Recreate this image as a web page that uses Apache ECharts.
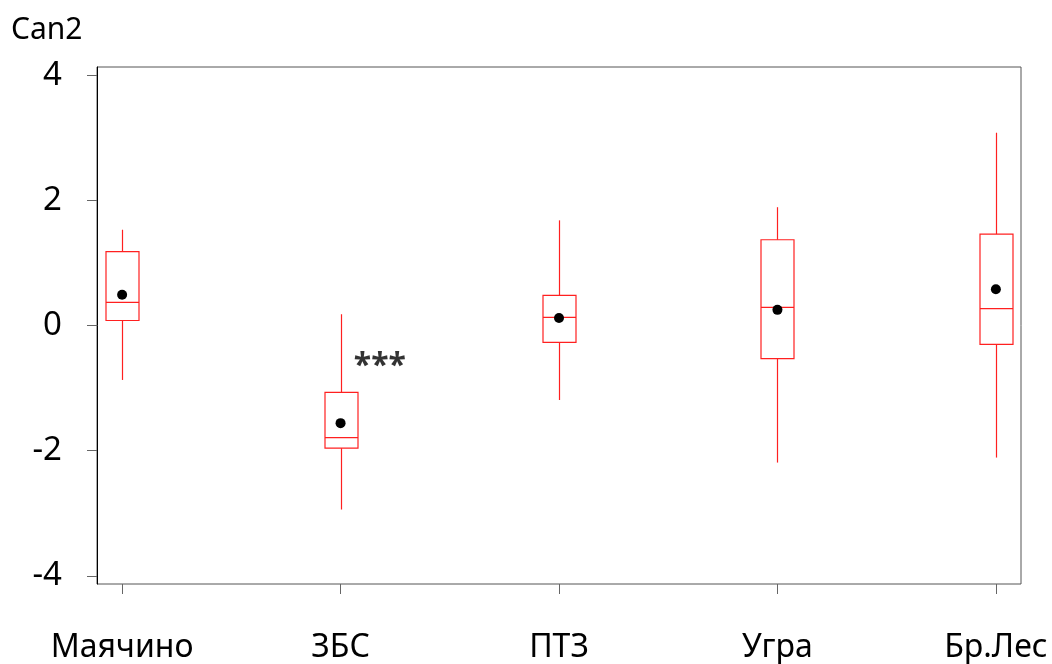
<!DOCTYPE html>
<html>
<head>
<meta charset="utf-8">
<script src="https://cdn.jsdelivr.net/npm/echarts@6/dist/echarts.min.js"></script>
<style>html,body{margin:0;padding:0;background:#fff}#c{width:1052px;height:664px}</style>
</head>
<body>
<div id="c"></div>
<script>
const categories = ['Маячино', 'ЗБС', 'ПТЗ', 'Угра', 'Бр.Лес'];
const whiskerLow  = [-0.87, -2.94, -1.19, -2.19, -2.11];
const q1Values    = [ 0.08, -1.96, -0.27, -0.53, -0.30];
const medians     = [ 0.37, -1.79,  0.13,  0.29,  0.27];
const q3Values    = [ 1.18, -1.07,  0.48,  1.37,  1.46];
const whiskerHigh = [ 1.53,  0.18,  1.68,  1.89,  3.08];
const means       = [ 0.49, -1.56,  0.12,  0.25,  0.58];
const yTicks = [-4, -2, 0, 2, 4];
const axisTitle = 'Can2';
const annotationText = '***';
const annotationPos = [1.18, -0.66];

const FONT = '"Noto Sans", "Open Sans", sans-serif';
const xIdx = categories.map((c, i) => i);
const boxData = categories.map((c, i) => [i, whiskerLow[i], q1Values[i], medians[i], q3Values[i], whiskerHigh[i]]);
const meanData = categories.map((c, i) => [i, means[i]]);

const chart = echarts.init(document.getElementById('c'), null, {renderer: 'canvas'});
const HALF = 16.5;
const RED = '#ff2020';
chart.setOption({
  animation: false,
  backgroundColor: '#fff',
  title: {
    text: axisTitle, left: 6, top: 10,
    textStyle: {fontFamily: FONT, fontSize: 30, fontWeight: 'normal', color: '#000'}
  },
  grid: {left: 97, right: 31, top: 67, bottom: 77, show: true, borderColor: '#555', borderWidth: 1},
  xAxis: {
    type: 'value', min: -0.115, max: 4.115,
    splitLine: {show: false},
    axisLine: {show: false, onZero: false},
    axisTick: {show: true, customValues: xIdx, length: 10, lineStyle: {color: '#666', width: 1}},
    axisLabel: {
      customValues: xIdx, margin: 48,
      formatter: v => categories[Math.round(v)] || '',
      fontFamily: FONT, fontSize: 32, color: '#000'
    }
  },
  yAxis: {
    type: 'value', min: -4.13, max: 4.13,
    splitLine: {show: false},
    axisLine: {show: true, onZero: false, lineStyle: {color: '#000', width: 1}},
    axisTick: {show: true, customValues: yTicks, length: 10, lineStyle: {color: '#666', width: 1}},
    axisLabel: {
      customValues: yTicks, margin: 35,
      fontFamily: FONT, fontSize: 33, color: '#000',
      padding: [12, 0, 0, 0]
    }
  },
  series: [
    {
      type: 'custom',
      data: boxData,
      encode: {x: 0, y: [1, 2, 3, 4, 5]},
      renderItem: function (params, api) {
        const x = api.value(0);
        const pLo = api.coord([x, api.value(1)]);
        const pQ1 = api.coord([x, api.value(2)]);
        const pMed = api.coord([x, api.value(3)]);
        const pQ3 = api.coord([x, api.value(4)]);
        const pHi = api.coord([x, api.value(5)]);
        const cx = Math.round(pQ1[0]) + 0.5;
        const st = {stroke: RED, lineWidth: 1.2, fill: null};
        return {
          type: 'group',
          children: [
            {type: 'line', shape: {x1: cx, y1: pHi[1], x2: cx, y2: pQ3[1]}, style: st},
            {type: 'line', shape: {x1: cx, y1: pQ1[1], x2: cx, y2: pLo[1]}, style: st},
            {type: 'rect', shape: {x: cx - HALF, y: pQ3[1], width: HALF * 2, height: pQ1[1] - pQ3[1]}, style: {stroke: RED, lineWidth: 1.2, fill: 'rgba(0,0,0,0)'}},
            {type: 'line', shape: {x1: cx - HALF, y1: pMed[1], x2: cx + HALF, y2: pMed[1]}, style: st}
          ]
        };
      },
      z: 2
    },
    {
      type: 'scatter',
      data: meanData,
      symbol: 'circle', symbolSize: 10,
      itemStyle: {color: '#000', opacity: 1},
      z: 3
    },
    {
      type: 'scatter',
      data: [annotationPos],
      symbolSize: 1,
      itemStyle: {color: 'rgba(0,0,0,0)'},
      label: {
        show: true, position: 'inside', formatter: annotationText,
        fontFamily: FONT, fontSize: 32, fontWeight: 'bold', color: '#000'
      },
      z: 4
    }
  ]
});
</script>
</body>
</html>
